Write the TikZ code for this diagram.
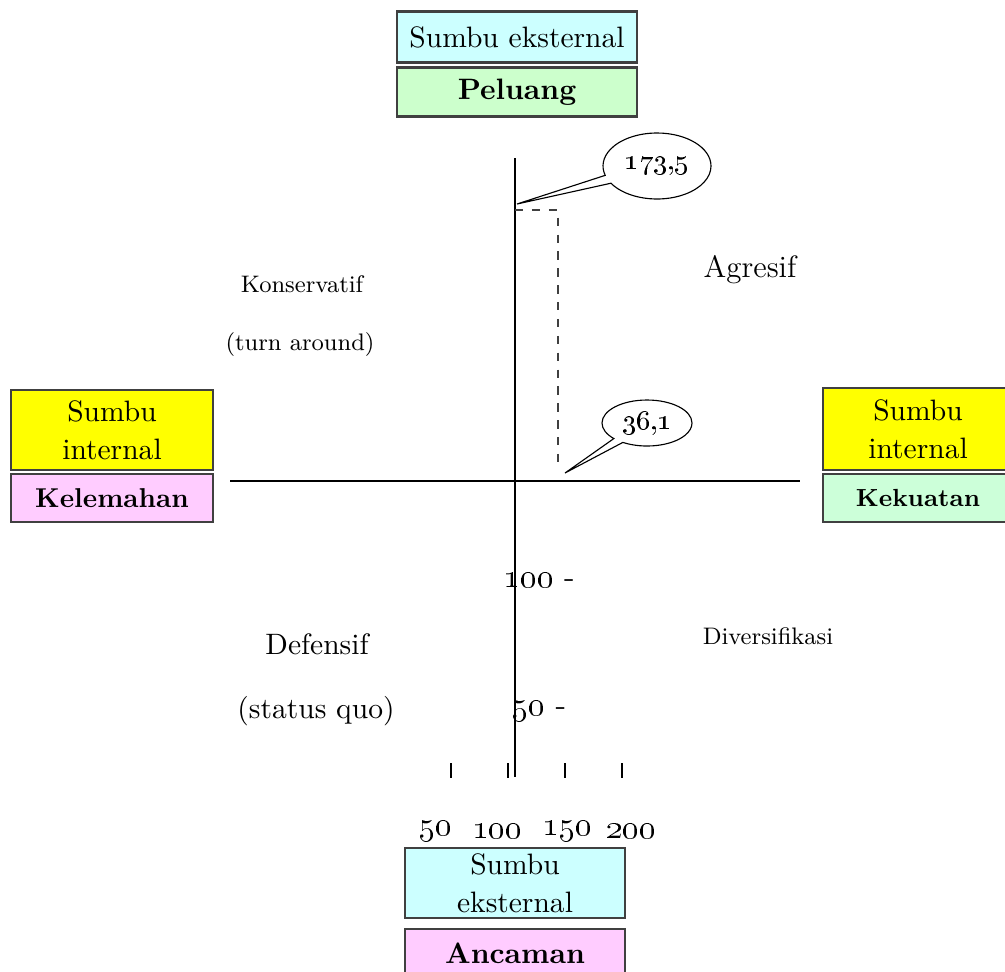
\documentclass[tikz,border=0pt]{standalone}
\usepackage{tikz}
\usetikzlibrary{shapes.geometric,shapes.callouts}
\definecolor{sumbucyan}{rgb}{0.80,1.00,1.00}
\definecolor{sumbuyellow}{rgb}{1.00,1.00,0.00}
\definecolor{peluanggreen}{rgb}{0.80,1.00,0.80}
\definecolor{kuatgreen}{rgb}{0.80,1.00,0.85}
\definecolor{lemahpink}{rgb}{1.00,0.80,1.00}

\begin{document}
\begin{tikzpicture}[x=0.0125cm,y=-0.0125cm,font=\fontsize{10.5}{12}\selectfont,
   box/.style={draw,thick,draw=black!75,inner sep=0pt,align=center,
               font=\fontsize{10.5}{13.5}\selectfont},
   bold/.style={font=\fontsize{10.5}{12}\selectfont\bfseries},
   small/.style={font=\fontsize{8.5}{10}\selectfont},
   bubble/.style={draw,ellipse callout,inner sep=1pt,font=\fontsize{10}{11}\selectfont}]
  \useasboundingbox (0,0) rectangle (1005,971);
  % boxes at the ends of the axes
  \node[box,fill=sumbucyan,minimum width=240*0.0125cm,minimum height=51*0.0125cm] (ekstA) at (517,37) {Sumbu eksternal};
  \node[box,bold,fill=peluanggreen,minimum width=240*0.0125cm,minimum height=49*0.0125cm] (peluang) at (517,92) {Peluang};
  \node[box,fill=sumbuyellow,minimum width=202*0.0125cm,minimum height=80*0.0125cm] (intL) at (112,430) {Sumbu\\internal};
  \node[box,bold,fill=lemahpink,minimum width=202*0.0125cm,minimum height=48*0.0125cm,
        font=\fontsize{9.7}{11}\selectfont\bfseries] (lemah) at (112,498) {Kelemahan};
  \node[box,fill=sumbuyellow,minimum width=190*0.0125cm,minimum height=82*0.0125cm] (intR) at (918,429) {Sumbu\\internal};
  \node[box,fill=kuatgreen,minimum width=190*0.0125cm,minimum height=48*0.0125cm,
        font=\fontsize{8.8}{10}\selectfont\bfseries] (kuat) at (918,498) {Kekuatan};
  \node[box,fill=sumbucyan,minimum width=220*0.0125cm,minimum height=70*0.0125cm] (ekstB) at (515,883) {Sumbu\\eksternal};
  \node[box,bold,fill=lemahpink,minimum width=220*0.0125cm,minimum height=48*0.0125cm] (ancam) at (515,953) {Ancaman};
  % axes
  \coordinate (vtop) at (515,158);
  \coordinate (vbot) at (515,777);
  \coordinate (hleft) at (230,481);
  \coordinate (hright) at (800,481);
  \draw[thick] (vtop) -- (vbot);
  \draw[thick] (hleft) -- (hright);
  % point of the result
  \coordinate (ptop) at (515,210);
  \coordinate (pcorner) at (558,210);
  \coordinate (pbot) at (558,470);
  \draw[dashed,thick,black!75] (ptop) -- (pcorner) -- (pbot);
  \node[bubble,minimum width=108*0.0125cm,minimum height=66*0.0125cm,
        callout absolute pointer={(517,204)}] (nilaiY) at (657,166) {\oldstylenums{173,5}};
  \node[bubble,minimum width=90*0.0125cm,minimum height=46*0.0125cm,
        callout absolute pointer={(565,473)}] (nilaiX) at (647,423) {\oldstylenums{36,1}};
  % quadrant names
  \node (agresif) at (750,270) {\fontsize{11}{12}\selectfont Agresif};
  \node[small] (konserv) at (302,284) {Konservatif};
  \node[small] (turn) at (300,345) {(turn around)};
  \node (defensif) at (317,644) {Defensif};
  \node (statusquo) at (316,711) {(status quo)};
  \node[small] (divers) at (768,636) {Diversifikasi};
  % scale marks
  \node[anchor=west,font=\fontsize{11.5}{12}\selectfont] (y100) at (494,580) {\oldstylenums{100} -};
  \node[anchor=west,font=\fontsize{11.5}{12}\selectfont] (y50) at (502,711) {\oldstylenums{50} -};
  \foreach \tx in {451,508,565,622}
    \draw (\tx,763) -- (\tx,778);
  \foreach \tx/\lab in {435/50,497/100,567/150,631/200}
    \node[font=\fontsize{11.5}{12}\selectfont] (x\lab) at (\tx,831) {\oldstylenums{\lab}};
\end{tikzpicture}
\end{document}
